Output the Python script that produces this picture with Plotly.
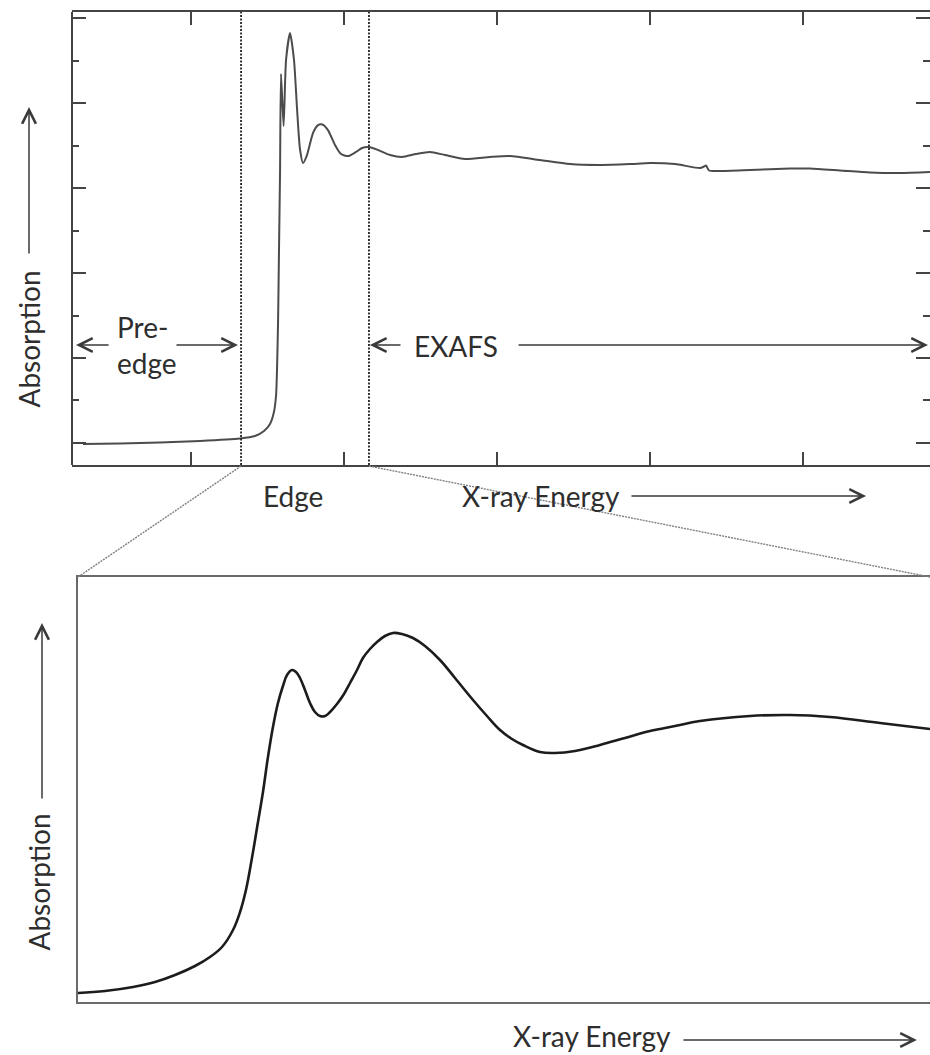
import plotly.graph_objects as go

# ---------------------------------------------------------------
# Full absorption spectrum (upper panel): energy (eV) vs absorption
# ---------------------------------------------------------------
energy_full = [6929.4, 6953.6, 6979.7, 7005.9, 7032.0, 7041.8, 7047.7, 7051.6,
               7054.2, 7055.6, 7056.2, 7056.9, 7057.5, 7058.2, 7058.8, 7060.5,
               7062.1, 7064.7, 7067.3, 7069.3, 7071.2, 7073.2, 7075.8, 7079.7,
               7083.0, 7085.9, 7089.5, 7094.1, 7098.0, 7102.6, 7107.8, 7111.8,
               7116.3, 7122.2, 7130.1, 7137.9, 7147.1, 7156.2, 7166.0, 7179.1,
               7195.4, 7208.5, 7228.1, 7247.7, 7267.3, 7286.9, 7300.0, 7316.3,
               7332.7, 7335.3, 7336.6, 7338.6, 7345.8, 7365.4, 7391.5, 7404.6,
               7424.2, 7443.8, 7463.4, 7483.0]
mu_full = [-0.012, -0.006, 0.006, 0.024, 0.053, 0.082, 0.141, 0.224,
           0.365, 0.565, 0.859, 1.447, 2.271, 3.212, 4.341, 3.729,
           4.506, 4.824, 4.506, 3.929, 3.459, 3.294, 3.388, 3.647,
           3.741, 3.747, 3.682, 3.506, 3.400, 3.376, 3.424, 3.471,
           3.482, 3.447, 3.388, 3.365, 3.400, 3.424, 3.388, 3.341,
           3.365, 3.376, 3.329, 3.282, 3.271, 3.282, 3.294, 3.282,
           3.235, 3.253, 3.265, 3.206, 3.200, 3.212, 3.229, 3.229,
           3.206, 3.182, 3.176, 3.188]

# ---------------------------------------------------------------
# Close-up of the edge region (lower panel)
# ---------------------------------------------------------------
energy_edge = [7032.70, 7035.35, 7038.10, 7040.26, 7042.22, 7044.18, 7045.65,
               7046.83, 7047.91, 7048.60, 7049.18, 7049.77, 7050.36, 7050.85,
               7051.34, 7051.83, 7052.32, 7052.81, 7053.21, 7053.70, 7054.09,
               7054.48, 7054.97, 7055.46, 7055.95, 7056.45, 7056.94, 7057.43,
               7058.11, 7058.80, 7059.39, 7060.08, 7060.66, 7061.35, 7062.04,
               7062.82, 7063.61, 7064.49, 7065.57, 7066.75, 7068.22, 7069.69,
               7071.46, 7072.83, 7074.11, 7075.28, 7076.36, 7078.03, 7079.50,
               7081.47, 7083.92, 7086.37, 7088.83, 7091.28, 7093.73, 7098.64,
               7102.56, 7106.49, 7111.40, 7116.30]
mu_edge = [0.036, 0.044, 0.060, 0.080, 0.108, 0.144, 0.180,
           0.220, 0.288, 0.360, 0.448, 0.576, 0.720, 0.840,
           0.980, 1.100, 1.196, 1.264, 1.308, 1.328, 1.320,
           1.296, 1.248, 1.196, 1.160, 1.144, 1.144, 1.160,
           1.192, 1.232, 1.276, 1.328, 1.376, 1.412, 1.440,
           1.464, 1.476, 1.472, 1.456, 1.424, 1.368, 1.296,
           1.208, 1.144, 1.088, 1.052, 1.028, 1.000, 0.996,
           1.004, 1.028, 1.056, 1.084, 1.104, 1.124, 1.144,
           1.148, 1.140, 1.116, 1.092]

# Region boundaries (eV)
EDGE_START = 7032.7
EXAFS_START = 7116.3

# Axis ranges
top_xrange = [6922.2, 7483.0]
top_yrange = [-0.259, 5.071]
bot_yrange = [0.0, 1.7]

W, H = 930, 1055
top_xdom = [72 / W, 1.0]
top_ydom = [(H - 465) / H, (H - 12) / H]
bot_xdom = [78 / W, 1.0]
bot_ydom = [(H - 1002) / H, (H - 577) / H]

AXC = "#444444"
TXT = "#2e2e2e"
ARC = "#3a3a3a"
FONT = "Lato"
FS = 28


def top_x_to_paper(e):
    f = (e - top_xrange[0]) / (top_xrange[1] - top_xrange[0])
    return top_xdom[0] + f * (top_xdom[1] - top_xdom[0])


fig = go.Figure()
fig.add_trace(go.Scatter(x=energy_full, y=mu_full, mode="lines",
                         line=dict(color="#4c4c4c", width=2, shape="spline", smoothing=0.6),
                         xaxis="x", yaxis="y", showlegend=False, hoverinfo="skip"))
fig.add_trace(go.Scatter(x=energy_edge, y=mu_edge, mode="lines",
                         line=dict(color="#1c1c1c", width=2.6, shape="spline", smoothing=1.1),
                         xaxis="x2", yaxis="y2", showlegend=False, hoverinfo="skip"))

shapes = []
# dotted region boundaries in the upper panel
for e in (EDGE_START, EXAFS_START):
    shapes.append(dict(type="line", xref="x", yref="y domain", x0=e, x1=e, y0=0, y1=1,
                       line=dict(color="#222222", width=1.8, dash="2px,1.5px")))
# left frame line of the upper panel
shapes.append(dict(type="line", xref="paper", yref="paper",
                   x0=top_xdom[0], x1=top_xdom[0], y0=top_ydom[0], y1=top_ydom[1],
                   line=dict(color=AXC, width=2)))
# zoom connectors from the edge region to the lower panel
shapes.append(dict(type="line", xref="paper", yref="paper",
                   x0=top_x_to_paper(EDGE_START), y0=top_ydom[0] - 0.001,
                   x1=bot_xdom[0], y1=bot_ydom[1],
                   line=dict(color="#808080", width=1.4, dash="2px,1px")))
shapes.append(dict(type="line", xref="paper", yref="paper",
                   x0=top_x_to_paper(EXAFS_START), y0=top_ydom[0] - 0.001,
                   x1=bot_xdom[1], y1=bot_ydom[1],
                   line=dict(color="#808080", width=1.4, dash="2px,1px")))

ann = []


def arrow(x_head, y_head, x_tail, y_tail, xref, yref):
    return dict(x=x_head, y=y_head, ax=x_tail, ay=y_tail, xref=xref, yref=yref,
                axref=xref, ayref=yref, text="", showarrow=True,
                arrowhead=5, arrowsize=1.8, arrowwidth=1.5, arrowcolor=ARC,
                standoff=0, startstandoff=0)


def harrow(x_head, x_tail, y_paper, xref):
    # horizontal arrow placed below an axis (paper y)
    return dict(x=x_head, y=y_paper, ax=x_tail, ay=0, xref=xref, yref="paper",
                axref=xref, ayref="pixel", text="", showarrow=True,
                arrowhead=5, arrowsize=1.8, arrowwidth=1.5, arrowcolor=ARC)


def varrow(x_paper, y_head, y_tail, yref):
    # vertical arrow beside an axis (paper x)
    return dict(x=x_paper, y=y_head, ax=0, ay=y_tail, xref="paper", yref=yref,
                axref="pixel", ayref=yref, text="", showarrow=True,
                arrowhead=5, arrowsize=1.8, arrowwidth=1.5, arrowcolor=ARC)


def label(text, x, y, xref, yref, xanchor="center", yanchor="middle", angle=0, align="left"):
    return dict(text=text, x=x, y=y, xref=xref, yref=yref, showarrow=False,
                xanchor=xanchor, yanchor=yanchor, textangle=angle, align=align,
                font=dict(family=FONT, size=FS, color=TXT))


# Pre-edge region
ann.append(label("Pre-<br>edge", 6950.3, 1.15, "x", "y", xanchor="left"))
ann.append(arrow(6924.8, 1.153, 6947.1, 1.153, "x", "y"))
ann.append(arrow(7030.7, 1.153, 6989.5, 1.153, "x", "y"))
# EXAFS region
ann.append(label("EXAFS", 7173.2, 1.141, "x", "y"))
ann.append(arrow(7116.9, 1.153, 7137.9, 1.153, "x", "y"))
ann.append(arrow(7481.7, 1.153, 7213.1, 1.153, "x", "y"))
# labels under the upper axis
y_under = (H - 496) / H
ann.append(label("Edge", 7066.7, y_under, "x", "paper"))
ann.append(label("X-ray Energy", 7228.8, y_under, "x", "paper"))
ann.append(harrow(7441.2, 7286.9, y_under, "x"))
# upper y label with arrow
ann.append(label("Absorption", 29 / W, 0.388, "paper", "y", yanchor="bottom", angle=-90))
ann.append(varrow(29 / W, 3.953, 2.212, "y"))

# lower panel labels
y_bot = (H - 1040) / H
ann.append(label("X-ray Energy", 7083.1, 0.0, "x2", "paper", yanchor="bottom"))
ann.append(harrow(7115.02, 7091.96, y_bot, "x2"))
ann.append(label("Absorption", 38 / W, 0.196, "paper", "y2", yanchor="bottom", angle=-90))
ann.append(varrow(42 / W, 1.516, 0.808, "y2"))

fig.update_layout(
    width=W, height=H, margin=dict(l=0, r=0, t=0, b=0),
    paper_bgcolor="white", plot_bgcolor="white",
    shapes=shapes, annotations=ann,
    xaxis=dict(domain=top_xdom, range=top_xrange, anchor="y",
               showline=True, linecolor=AXC, linewidth=2, mirror="ticks",
               ticks="inside", ticklen=13, tickwidth=2, tickcolor=AXC,
               tick0=7000, dtick=100, showticklabels=False,
               showgrid=False, zeroline=False),
    yaxis=dict(domain=top_ydom, range=top_yrange, anchor="x",
               showline=False, mirror="ticks",
               ticks="inside", ticklen=14, tickwidth=2, tickcolor=AXC,
               tick0=0, dtick=1, showticklabels=False,
               minor=dict(ticks="inside", ticklen=7, tickwidth=2, tickcolor=AXC, dtick=0.5),
               showgrid=False, zeroline=False),
    xaxis2=dict(domain=bot_xdom, range=[EDGE_START, EXAFS_START], anchor="y2",
                showline=True, linecolor="#6a6a6a", linewidth=2, mirror=True,
                ticks="", showticklabels=False, showgrid=False, zeroline=False),
    yaxis2=dict(domain=bot_ydom, range=bot_yrange, anchor="x2",
                showline=True, linecolor="#6a6a6a", linewidth=1.5, mirror=False,
                ticks="", showticklabels=False, showgrid=False, zeroline=False),
)

fig.write_html("out.html")
